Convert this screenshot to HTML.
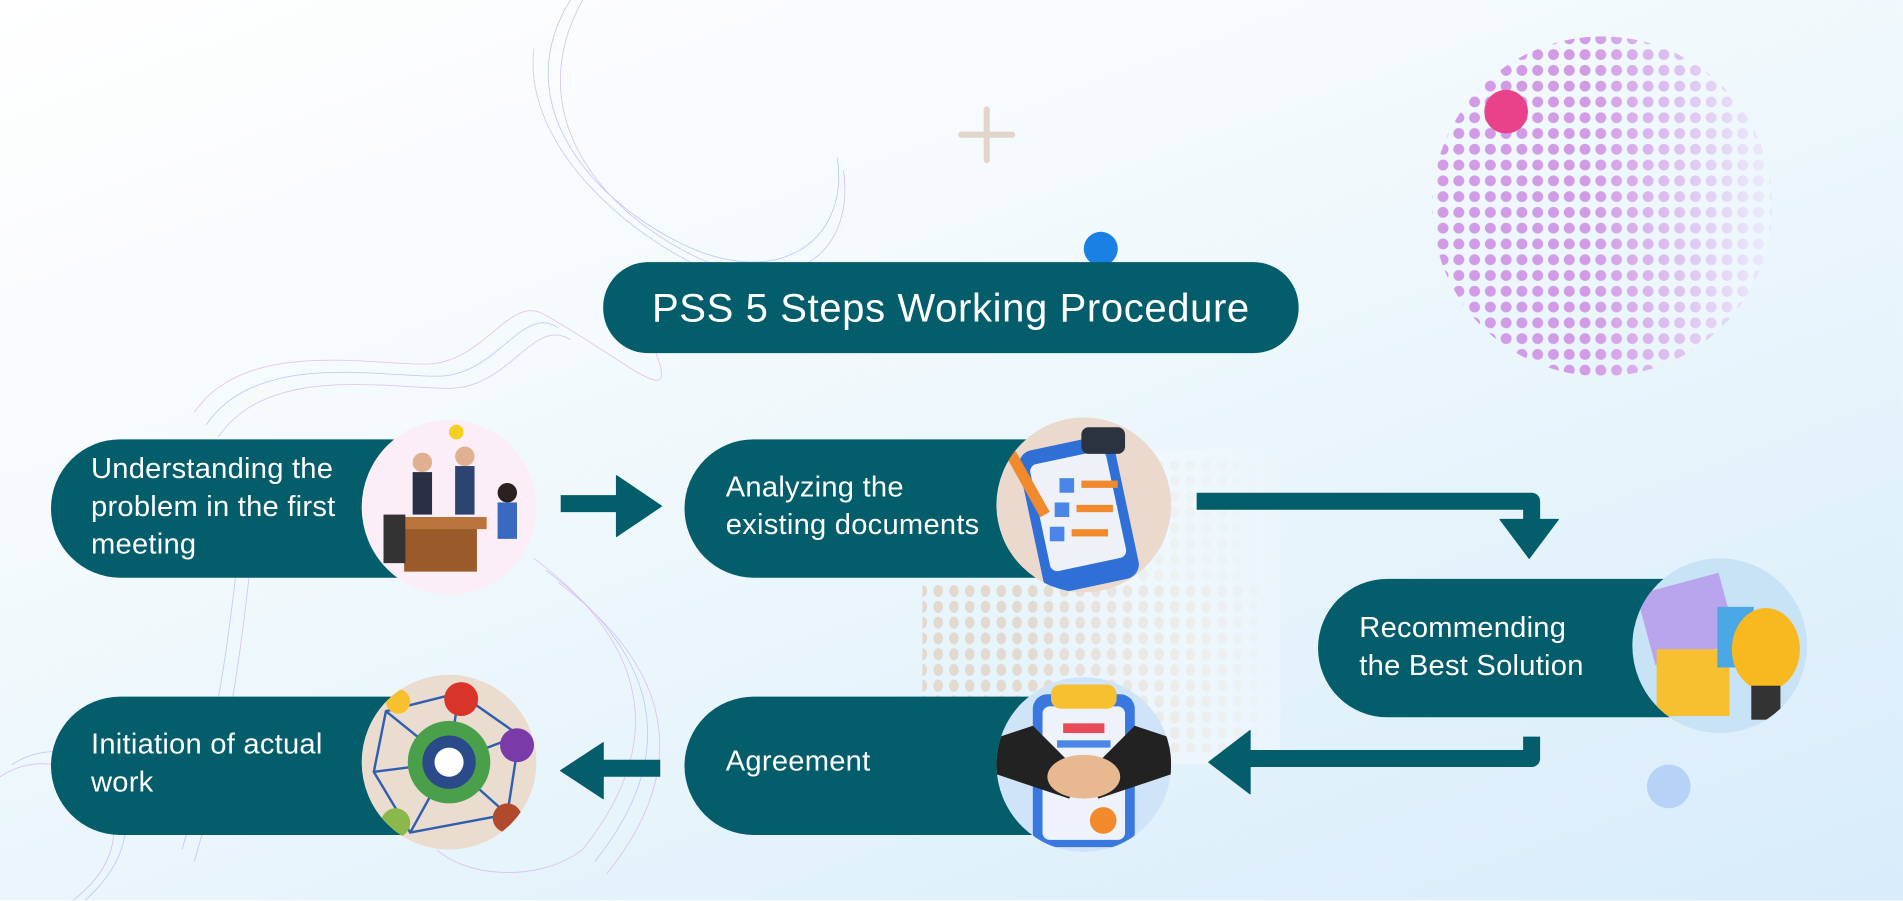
<!DOCTYPE html>
<html><head><meta charset="utf-8"><style>
html,body{margin:0;padding:0;width:1903px;height:900px;overflow:hidden}
body{background:linear-gradient(160deg,#ffffff 0%,#f4fafd 35%,#e6f4fb 65%,#d8ecfb 100%)}
#s{position:absolute;left:0;top:0;width:1568px;height:742px;transform:scale(1.21365);transform-origin:0 0;font-family:"Liberation Sans",sans-serif}
.p{position:absolute;background:#035d6a;color:#fff}
.box{height:114px;border-radius:57px 0 0 57px;width:300px}
.t{position:absolute;color:#fff;font-size:24px;line-height:31px;letter-spacing:0.2px}
.c{position:absolute;width:144px;height:144px;border-radius:50%;overflow:hidden}
</style></head><body><div id="s">
<svg width="1568" height="742" style="position:absolute;left:0;top:0">
<defs>
<pattern id="pd" width="13" height="13" patternUnits="userSpaceOnUse"><circle cx="6" cy="6" r="4.5" fill="#d29be6"/></pattern>
<pattern id="gd" width="13" height="13" patternUnits="userSpaceOnUse"><ellipse cx="6" cy="6" rx="4" ry="5" fill="#e4d9cf"/></pattern>
<linearGradient id="fadeR" x1="0" x2="1"><stop offset="0.45" stop-color="#f0f8fc" stop-opacity="0"/><stop offset="1" stop-color="#eef7fc" stop-opacity="0.95"/></linearGradient>
<linearGradient id="fade" x1="0" x2="1"><stop offset="0.3" stop-color="#fff" stop-opacity="0"/><stop offset="1" stop-color="#eaf5fb" stop-opacity="1"/></linearGradient>
<clipPath id="cc"><circle cx="1320" cy="170" r="140"/></clipPath>
</defs>
<g fill="none" stroke-width="0.7" opacity="0.55">
<path d="M470 0 C420 80 480 160 560 200 C640 240 700 200 690 130" stroke="#8fa0e8"/>
<path d="M480 0 C430 90 490 170 570 210 C650 250 705 210 695 140" stroke="#b89ae0"/>
<path d="M440 40 C430 120 520 200 600 230" stroke="#a0a8ea"/>
<path d="M160 340 C200 280 300 300 350 300 C400 300 420 240 450 260 C520 300 560 340 540 290" stroke="#d99ae0"/>
<path d="M170 350 C210 290 310 310 360 310 C410 310 430 250 460 270" stroke="#9aa6ea"/>
<path d="M180 360 C220 300 320 320 370 320 C420 320 440 260 470 280" stroke="#c0a2e8"/>
<path d="M200 420 C190 520 180 600 150 700" stroke="#9aa6ea"/>
<path d="M210 430 C200 530 190 610 160 710" stroke="#c09ae6"/>
<path d="M0 640 C60 600 140 680 60 742" stroke="#c09ae6"/>
<path d="M10 630 C70 590 150 670 70 742" stroke="#9aa6ea"/>
<path d="M440 460 C520 520 560 600 480 700 C440 730 380 720 360 700" stroke="#d99ae0"/>
<path d="M450 470 C530 530 570 610 490 710" stroke="#a0a8ea"/>
<path d="M460 480 C540 540 580 620 500 720" stroke="#d99ae0"/>
</g>
<g clip-path="url(#cc)"><rect x="1180" y="30" width="280" height="280" fill="url(#pd)"/><rect x="1180" y="30" width="290" height="280" fill="url(#fadeR)"/></g>
<circle cx="1241" cy="92" r="18" fill="#e8438a"/>
<circle cx="907" cy="205" r="14" fill="#1a80e4"/>
<path d="M813 90 V132 M792 111 H834" stroke="#e2d6cc" stroke-width="5" stroke-linecap="round"/>
<circle cx="1375" cy="648" r="18" fill="#b6d2f6"/>
<rect x="760" y="480" width="290" height="140" fill="url(#gd)"/>
<rect x="930" y="380" width="120" height="100" fill="url(#gd)" opacity="0.5"/>
<rect x="760" y="370" width="295" height="260" fill="url(#fade)"/>
<g fill="#035d6a" stroke="#035d6a" stroke-linejoin="round">
<path d="M462 415 H515" stroke-width="14"/>
<path d="M508 392 L545 417 L508 442 Z"/>
<path d="M986 413 H1262 V432" stroke-width="14" fill="none"/>
<path d="M1236 428 L1284 428 L1260 460 Z"/>
<path d="M1262 607 V625 H1028" stroke-width="14" fill="none"/>
<path d="M1030 602 L996 628 L1030 654 Z"/>
<path d="M544 633 H495" stroke-width="14"/>
<path d="M497 612 L462 635 L497 658 Z"/>
</g>
</svg>
<div class="p" style="left:497px;top:216px;width:573px;height:75px;border-radius:37px;font-size:33px;line-height:75px;text-align:center;letter-spacing:0.5px">PSS 5 Steps Working Procedure</div>

<div class="p box" style="left:42px;top:362px"></div>
<div class="t" style="left:75px;top:371px">Understanding the<br>problem in the first<br>meeting</div>
<div class="c" style="left:298px;top:346px;background:#fbeef6"><svg width="144" height="144"><rect x="35" y="85" width="60" height="40" fill="#9a5a2a"/><rect x="28" y="80" width="75" height="10" fill="#b8743c"/><circle cx="50" cy="35" r="8" fill="#e0b090"/><rect x="42" y="43" width="16" height="35" fill="#2a2f45"/><circle cx="85" cy="30" r="8" fill="#e0b090"/><rect x="77" y="38" width="16" height="40" fill="#2d4370"/><circle cx="120" cy="60" r="8" fill="#2a2020"/><rect x="112" y="68" width="16" height="30" fill="#3a6abf"/><rect x="18" y="78" width="18" height="40" fill="#333"/><circle cx="78" cy="10" r="6" fill="#f5d020"/></svg></div>

<div class="p box" style="left:564px;top:362px;width:290px"></div>
<div class="t" style="left:598px;top:386px">Analyzing the<br>existing documents</div>
<div class="c" style="left:821px;top:344px;background:#ead9cc"><svg width="144" height="144"><rect x="28" y="20" width="80" height="120" rx="12" fill="#2f6fd6" transform="rotate(-12 68 80)"/><rect x="36" y="32" width="64" height="90" rx="6" fill="#eef2f8" transform="rotate(-12 68 80)"/><rect x="70" y="8" width="36" height="22" rx="6" fill="#2c3340"/><g fill="#f08a2c"><rect x="70" y="52" width="30" height="6"/><rect x="66" y="72" width="30" height="6"/><rect x="62" y="92" width="30" height="6"/></g><g fill="#4a86e8"><rect x="52" y="50" width="12" height="12"/><rect x="48" y="70" width="12" height="12"/><rect x="44" y="90" width="12" height="12"/></g><path d="M12 30 L40 80" stroke="#f08a2c" stroke-width="9"/></svg></div>

<div class="p box" style="left:1086px;top:477px;width:290px"></div>
<div class="t" style="left:1120px;top:502px">Recommending<br>the Best Solution</div>
<div class="c" style="left:1345px;top:460px;background:#c8e2f6"><svg width="144" height="144"><rect x="10" y="20" width="70" height="60" fill="#b9a4ee" transform="rotate(-15 45 50)"/><rect x="20" y="75" width="60" height="55" fill="#f6c030"/><rect x="70" y="40" width="30" height="50" fill="#4aa8e6"/><ellipse cx="110" cy="75" rx="28" ry="34" fill="#f8b820"/><rect x="98" y="105" width="24" height="28" fill="#333"/></svg></div>

<div class="p box" style="left:564px;top:574px;width:290px"></div>
<div class="t" style="left:598px;top:612px">Agreement</div>
<div class="c" style="left:821px;top:558px;background:#cfe4f8"><svg width="144" height="144"><rect x="30" y="14" width="84" height="126" rx="12" fill="#3a78e0"/><rect x="38" y="24" width="68" height="110" rx="6" fill="#eef3fb"/><rect x="45" y="6" width="54" height="20" rx="8" fill="#f6c030"/><rect x="55" y="38" width="34" height="8" fill="#e84a5a"/><rect x="50" y="52" width="44" height="6" fill="#4a86e8"/><path d="M0 50 L30 40 L70 80 L60 100 L0 80Z" fill="#222"/><path d="M144 50 L114 40 L74 80 L84 100 L144 80Z" fill="#222"/><ellipse cx="72" cy="82" rx="30" ry="18" fill="#e8b890"/><circle cx="88" cy="118" r="11" fill="#f28a2c"/></svg></div>

<div class="p box" style="left:42px;top:574px"></div>
<div class="t" style="left:75px;top:598px">Initiation of actual<br>work</div>
<div class="c" style="left:298px;top:556px;background:#eadcce"><svg width="144" height="144" stroke="#2f5fb0" stroke-width="2" fill="none"><path d="M20 30 L80 15 L130 50 L120 115 L40 130 L10 80 Z M20 30 L72 72 L130 50 M80 15 L72 72 L120 115 M10 80 L72 72 L40 130"/><circle cx="72" cy="72" r="34" fill="#4aa04a" stroke="none"/><circle cx="72" cy="72" r="22" fill="#2a4a8a" stroke="none"/><circle cx="72" cy="72" r="12" fill="#fff" stroke="none"/><circle cx="82" cy="20" r="14" fill="#d8342a" stroke="none"/><circle cx="128" cy="58" r="14" fill="#7a3aa8" stroke="none"/><circle cx="120" cy="118" r="12" fill="#b04a2a" stroke="none"/><circle cx="28" cy="122" r="12" fill="#8ab84a" stroke="none"/><circle cx="30" cy="22" r="10" fill="#f6c030" stroke="none"/></svg></div>
</div></body></html>
